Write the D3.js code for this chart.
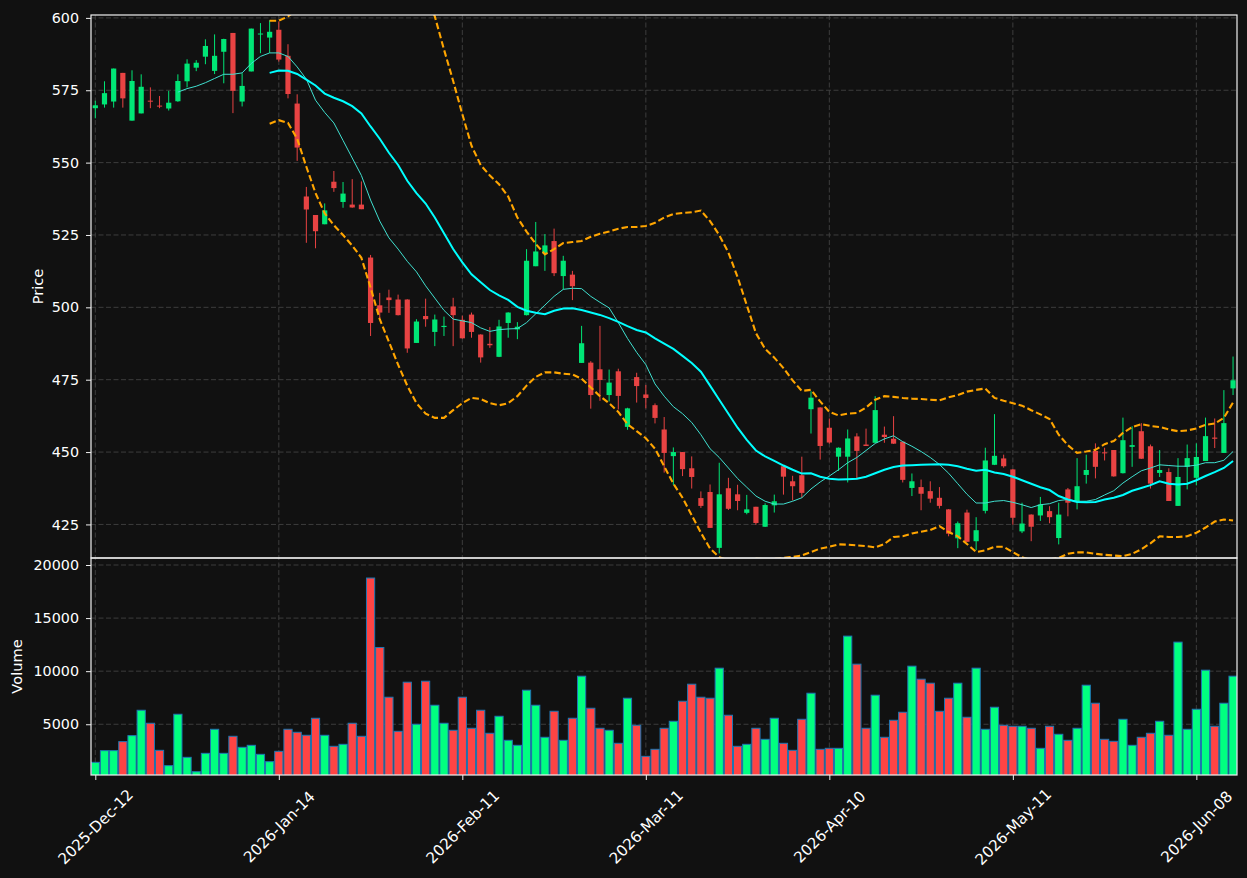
<!DOCTYPE html>
<html><head><meta charset="utf-8">
<script src="https://cdn.jsdelivr.net/npm/d3@7"></script>
<style>html,body{margin:0;padding:0;background:#111111;} svg{display:block;font-family:"DejaVu Sans",sans-serif;}</style>
</head><body>
<svg id="c" width="1247" height="878"></svg>
<script>
// ---- data ----
const tickIndex = [0,20,40,60,80,100,120];
const tickLabels = ["2025-Dec-12","2026-Jan-14","2026-Feb-11","2026-Mar-11","2026-Apr-10","2026-May-11","2026-Jun-08"];
const priceTicks = [425,450,475,500,525,550,575,600];
const volumeTicks = [5000,10000,15000,20000];

const open = [568.8,570.1,571.1,581.0,564.5,567.0,571.4,569.7,568.7,571.2,
578.1,582.8,586.6,581.7,588.3,594.8,571.1,581.5,594.4,593.2,
595.9,586.9,570.4,538.3,531.9,528.7,543.4,536.4,535.5,535.5,
517.2,500.7,503.4,502.7,502.7,487.7,497.0,491.5,493.2,500.3,
495.7,497.5,490.6,487.4,482.9,494.6,492.4,497.3,514.2,518.6,
522.9,510.8,511.3,480.8,480.9,478.6,469.7,477.9,458.7,475.9,
469.9,466.2,457.8,448.6,450.0,444.4,434.1,436.2,416.9,437.5,
435.4,429.0,431.1,424.2,431.6,445.1,439.9,442.0,464.8,465.4,
458.4,448.4,448.4,455.4,452.6,453.2,456.0,454.6,453.6,437.6,
437.9,436.5,434.2,430.2,420.2,429.1,419.2,429.7,445.6,447.8,
444.0,422.6,428.4,428.1,429.6,420.3,437.1,433.0,442.1,450.4,
449.9,450.7,442.7,451.8,457.2,452.0,442.8,443.1,431.4,444.9,
441.1,446.9,455.0,449.7,472.0];
const high = [571.4,578.1,582.5,581.0,581.9,580.5,576.0,573.0,574.8,580.5,
585.7,585.4,592.6,594.3,592.8,594.8,580.9,596.3,598.2,599.2,
598.8,590.9,573.6,541.6,531.9,535.9,547.1,543.3,544.3,543.5,
518.1,505.0,506.1,504.4,502.8,495.9,503.0,497.5,496.8,503.3,
497.1,498.2,490.7,493.2,495.7,498.3,494.9,520.1,529.5,525.3,
527.2,517.8,512.6,493.6,481.4,493.6,478.5,478.8,465.3,477.4,
473.2,466.8,462.1,451.6,450.0,448.5,436.4,438.8,446.3,441.1,
438.7,435.2,431.1,432.3,435.3,445.2,441.8,448.4,471.0,465.5,
461.6,451.6,457.8,456.5,458.1,469.3,458.8,462.4,453.6,442.6,
440.5,439.9,437.9,430.3,426.0,430.1,427.5,451.5,463.1,449.1,
444.1,432.5,428.5,434.5,431.3,432.5,437.6,447.9,449.1,453.0,
451.5,450.7,461.9,458.9,460.0,452.6,450.7,444.4,447.9,452.6,
453.0,461.9,461.6,471.4,483.0];
const low = [565.3,569.0,569.0,569.0,564.5,567.0,568.8,568.8,568.0,571.0,
576.0,581.6,584.0,580.6,577.4,567.1,569.4,581.5,587.8,587.9,
584.9,572.2,550.6,522.3,520.4,528.7,539.9,534.4,534.4,533.9,
490.1,496.1,498.1,497.2,484.3,487.7,493.3,486.6,490.1,486.6,
489.2,489.5,480.9,486.0,482.8,489.5,489.0,497.2,514.2,512.6,
510.8,506.2,502.5,480.8,465.0,467.7,467.5,464.7,457.7,467.1,
465.1,459.9,442.9,438.6,441.7,437.4,430.7,423.8,415.0,430.0,
429.9,428.5,424.9,424.1,429.1,435.3,433.3,434.2,456.4,447.4,
452.9,443.5,439.5,440.6,452.1,453.2,453.2,452.8,439.5,434.8,
429.9,432.5,430.5,420.9,416.8,418.9,416.1,428.8,445.5,444.6,
424.9,422.0,419.2,426.2,425.4,418.1,427.8,430.2,439.1,440.9,
447.1,441.5,442.6,444.9,447.6,437.4,441.4,433.1,431.4,437.1,
438.5,446.9,451.4,449.7,469.7];
const close = [569.8,574.0,582.5,572.2,578.2,576.2,571.2,569.5,570.7,578.2,
584.2,584.5,590.3,586.9,592.7,574.8,576.5,596.3,594.6,595.2,
585.6,573.7,555.2,533.8,526.3,533.5,541.2,539.3,534.5,533.9,
494.6,498.2,502.5,497.3,485.8,495.1,495.9,495.8,493.6,497.3,
489.3,491.5,482.7,486.9,493.4,498.2,493.3,516.1,519.3,521.4,
511.8,516.1,507.3,487.6,469.7,474.9,474.0,469.4,465.1,472.8,
468.7,461.8,449.7,450.0,444.1,441.4,431.4,423.8,435.4,430.4,
433.1,430.2,425.5,431.7,433.0,441.5,438.2,435.9,468.8,452.1,
453.3,451.5,454.7,450.4,452.1,464.5,455.2,452.9,440.4,439.9,
435.6,433.9,431.4,421.8,425.4,419.0,423.0,447.1,448.7,445.1,
427.3,425.3,424.2,431.9,427.5,428.4,432.5,438.2,443.8,444.9,
449.7,441.6,454.1,452.4,447.7,439.1,443.8,433.1,441.4,447.9,
448.3,455.5,454.6,460.0,474.8];
const volume = [1413,2514,2514,3363,3929,6319,5093,2545,1099,5942,
1885,532,2262,4527,2262,3866,2828,3017,2168,1476,
2451,4527,4244,3961,5565,3961,2923,3111,5093,3866,
18773,12232,7546,4338,8961,4998,9055,6791,5093,4432,
7546,4621,6319,4149,5753,3489,3017,8206,6791,3772,
6225,3489,5565,9527,6508,4621,4432,3206,7451,4904,
1979,2640,4621,5281,7168,8772,7546,7451,10282,5848,
2923,3111,4621,3583,5565,3206,2545,5470,7923,2640,
2734,2734,13301,10659,4621,7735,3772,5376,6131,10471,
9244,8867,6225,7451,8867,5659,10282,4527,6602,4904,
4810,4810,4621,2734,4810,4055,3489,4621,8678,6980,
3583,3394,5470,3017,3772,4149,5281,3961,12735,4527,
6414,10093,4810,6980,9527];

// thin moving-average line (first point at bar 9)
const ma10Start = 9;
const ma10 = [574.35,575.56,576.40,577.61,579.07,580.52,580.52,581.00,584.27,586.69,587.90,587.90,
586.69,583.06,578.82,571.56,567.33,563.70,557.65,551.60,545.55,537.07,529.81,524.01,520.13,515.90,512.27,507.43,503.19,498.96,495.93,495.33,494.72,492.91,
491.70,492.30,492.54,492.66,494.72,497.75,500.77,503.80,506.22,506.58,506.46,503.80,501.74,499.80,494.72,489.28,484.44,480.20,473.54,469.31,465.68,
463.26,460.23,456.00,451.16,448.13,444.50,440.87,437.85,434.82,433.01,432.04,432.04,433.01,434.22,437.24,439.66,441.72,443.90,446.32,448.13,450.55,
452.97,454.55,455.63,453.58,452.00,450.19,448.13,445.71,442.69,439.06,435.42,432.40,432.40,433.01,433.25,432.64,431.80,430.83,431.80,432.16,433.25,
433.61,433.01,433.01,433.61,435.18,436.64,439.30,441.48,443.53,444.50,445.59,445.35,445.11,445.11,445.47,446.32,446.32,447.16,450.19];
// thick moving-average line (first point at bar 19)
const ma20Start = 19;
const ma20 = [581.00,581.85,
581.73,580.64,578.70,576.64,573.86,572.41,571.20,569.51,566.96,562.49,558.25,553.41,549.18,543.73,539.49,535.86,531.02,525.58,520.13,515.53,511.42,508.64,
505.98,504.16,502.59,500.17,498.83,498.11,497.63,498.83,499.56,499.68,499.08,498.23,497.38,496.29,494.96,493.51,492.18,491.33,489.28,487.46,485.65,
483.23,480.80,477.78,472.94,468.10,463.26,458.42,454.18,450.55,448.50,446.92,445.35,443.90,442.57,442.69,441.48,440.75,440.51,440.63,440.75,441.48,
442.69,443.90,444.86,445.35,445.47,445.59,445.71,445.83,445.59,445.11,444.26,443.53,443.90,442.93,442.44,441.48,440.27,439.06,437.85,436.88,434.82,
433.61,432.76,432.64,432.76,433.61,434.22,435.18,436.64,437.60,438.57,439.90,439.06,438.81,439.06,440.27,441.72,443.05,444.50,446.92];
// dashed band lines (first point at bar 19)
const bandStart = 19;
const bandUpper = [599.03,599.03,
600.5,603.0,608.8,613.8,615.2,616.5,617.4,617.7,616.8,618.2,620.6,618.8,618.2,614.5,612.1,608.5,600.5,
589.11,578.22,566.72,555.83,549.18,
545.55,542.52,538.28,531.02,526.18,521.95,518.32,520.13,522.19,522.55,522.92,524.37,525.46,526.18,527.15,527.76,527.76,528.12,529.21,531.02,532.23,
532.60,532.84,533.44,529.81,524.97,518.92,510.45,500.77,491.09,485.65,482.62,478.99,474.75,471.12,471.49,467.49,463.86,462.65,463.26,463.50,465.40,
468.10,469.31,469.07,468.70,468.46,468.34,468.10,467.86,468.95,469.67,470.88,471.49,471.97,468.70,467.74,466.89,466.04,464.47,463.02,461.44,456.00,
452.37,449.71,450.19,450.79,452.73,453.82,456.60,458.66,459.63,459.02,458.66,457.81,457.21,457.45,458.18,459.39,459.87,461.81,467.13];
const bandLower = [563.46,564.66,
563.70,558.25,548.57,539.49,532.48,528.36,524.97,521.34,517.11,506.82,495.93,488.07,480.20,472.94,466.89,463.26,461.81,461.81,464.47,466.89,468.70,468.34,
466.89,466.16,466.89,469.31,472.94,475.96,477.54,477.54,477.05,476.81,475.36,472.33,469.31,466.89,463.86,459.63,457.21,454.79,451.16,445.11,439.06,
434.22,428.17,422.12,416.67,413.64,412.6,412.2,412.4,413.2,413.0,413.1,413.4,413.8,414.25,415.46,416.67,417.27,418.12,418.00,417.76,417.52,
417.03,418.24,420.66,420.90,421.87,422.48,423.08,424.41,422.36,420.90,418.24,415.46,416.06,417.27,417.27,415.46,413.64,412.68,412.43,412.92,413.40,
414.85,415.34,415.34,414.85,414.49,414.25,414.01,414.85,416.43,418.48,420.90,420.66,420.66,420.90,422.12,423.93,425.99,426.71,426.35];

// ---- layout ----
const L = 91, R = 1237, PT = 15, PB = 558, VT = 558, VB = 775;
const C = {bg:"#111111", up:"#00e676", down:"#e84343", vup:"#00ff80", vdown:"#ff4444", vedge:"#1f77b4",
           grid:"#3d3d3d", frame:"#f0f0f0", text:"#ffffff", ma10:"#40e0d0", ma20:"#00ffff", band:"#ffa500"};

const svg = d3.select("#c");
svg.append("rect").attr("width",1247).attr("height",878).attr("fill",C.bg);

const n = close.length;
const idx = d3.range(n);
const x = d3.scaleLinear().domain([-0.47, 124.43]).range([L, R]);
const yP = d3.scaleLinear().domain([413.4, 601.0]).range([PB, PT]);
const yV = d3.scaleLinear().domain([220, 20660]).range([VB, VT]);

const defs = svg.append("defs");
defs.append("clipPath").attr("id","cp").append("rect").attr("x",L).attr("y",PT).attr("width",R-L).attr("height",PB-PT);
defs.append("clipPath").attr("id","cv").append("rect").attr("x",L).attr("y",VT).attr("width",R-L).attr("height",VB-VT);

// grids
const grid = svg.append("g").attr("stroke",C.grid).attr("stroke-width",1).attr("stroke-dasharray","5,2.5");
grid.selectAll(".gx").data(tickIndex).join("line")
  .attr("x1",d=>x(d)).attr("x2",d=>x(d)).attr("y1",PT).attr("y2",VB);
grid.selectAll(".gp").data(priceTicks).join("line")
  .attr("x1",L).attr("x2",R).attr("y1",d=>yP(d)).attr("y2",d=>yP(d));
grid.selectAll(".gv").data(volumeTicks).join("line")
  .attr("x1",L).attr("x2",R).attr("y1",d=>yV(d)).attr("y2",d=>yV(d));

// candles
const cg = svg.append("g").attr("clip-path","url(#cp)");
const isUp = i => close[i] >= open[i];
cg.selectAll(".wick").data(idx).join("line")
  .attr("x1",i=>x(i)).attr("x2",i=>x(i))
  .attr("y1",i=>yP(high[i])).attr("y2",i=>yP(low[i]))
  .attr("stroke",i=>isUp(i)?C.up:C.down).attr("stroke-width",1);
cg.selectAll(".body").data(idx).join("rect")
  .attr("x",i=>x(i)-2.6).attr("width",5.2)
  .attr("y",i=>yP(Math.max(open[i],close[i])))
  .attr("height",i=>Math.max(1,Math.abs(yP(open[i])-yP(close[i]))))
  .attr("fill",i=>isUp(i)?C.up:C.down);

// lines
function series(vals, start){ return vals.map((v,k)=>[start+k, v]); }
const line = d3.line().x(d=>x(d[0])).y(d=>yP(d[1]));
const lg = svg.append("g").attr("clip-path","url(#cp)").attr("fill","none");
lg.append("path").attr("d",line(series(ma10,ma10Start))).attr("stroke",C.ma10).attr("stroke-width",1);
lg.append("path").attr("d",line(series(ma20,ma20Start))).attr("stroke",C.ma20).attr("stroke-width",2);
lg.append("path").attr("d",line(series(bandUpper,bandStart))).attr("stroke",C.band).attr("stroke-width",2.1).attr("stroke-dasharray","6.5,3");
lg.append("path").attr("d",line(series(bandLower,bandStart))).attr("stroke",C.band).attr("stroke-width",2.1).attr("stroke-dasharray","6.5,3");

// volume
const vg = svg.append("g").attr("clip-path","url(#cv)");
vg.selectAll(".vol").data(idx).join("rect")
  .attr("x",i=>x(i)-4.1).attr("width",8.2)
  .attr("y",i=>yV(volume[i])).attr("height",i=>VB-yV(volume[i])+2)
  .attr("fill",i=>isUp(i)?C.vup:C.vdown).attr("stroke",C.vedge).attr("stroke-width",1);

// frames
svg.append("rect").attr("x",L).attr("y",PT).attr("width",R-L).attr("height",PB-PT).attr("fill","none").attr("stroke",C.frame).attr("stroke-width",1.2);
svg.append("rect").attr("x",L).attr("y",VT).attr("width",R-L).attr("height",VB-VT).attr("fill","none").attr("stroke",C.frame).attr("stroke-width",1.2);

// axes
function styleAxis(g, fs){
  g.select(".domain").remove();
  g.selectAll(".tick line").attr("stroke",C.frame).attr("stroke-width",1);
  g.selectAll(".tick text").attr("fill",C.text).attr("font-size",fs).attr("font-family","DejaVu Sans, sans-serif");
}
svg.append("g").attr("transform",`translate(${L},0)`)
  .call(d3.axisLeft(yP).tickValues(priceTicks).tickSize(5).tickPadding(7).tickFormat(d3.format("d")))
  .call(styleAxis, 14.3);
svg.append("g").attr("transform",`translate(${L},0)`)
  .call(d3.axisLeft(yV).tickValues(volumeTicks).tickSize(5).tickPadding(7).tickFormat(d3.format("d")))
  .call(styleAxis, 14.3);
const xa = svg.append("g").attr("transform",`translate(0,${VB})`)
  .call(d3.axisBottom(x).tickValues(tickIndex).tickSize(5).tickFormat((d,i)=>tickLabels[i]))
  .call(styleAxis, 15.2);
xa.selectAll(".tick text")
  .attr("y",0).attr("dy",null).attr("dominant-baseline","central")
  .attr("text-anchor","middle")
  .attr("transform","translate(0,52) rotate(-45)");

// axis titles
svg.append("text").attr("transform",`translate(43,${(PT+PB)/2}) rotate(-90)`)
  .attr("text-anchor","middle").attr("fill",C.text).attr("font-size",14.6).text("Price");
svg.append("text").attr("transform",`translate(22,${(VT+VB)/2}) rotate(-90)`)
  .attr("text-anchor","middle").attr("fill",C.text).attr("font-size",14.6).text("Volume");
</script>
</body></html>
